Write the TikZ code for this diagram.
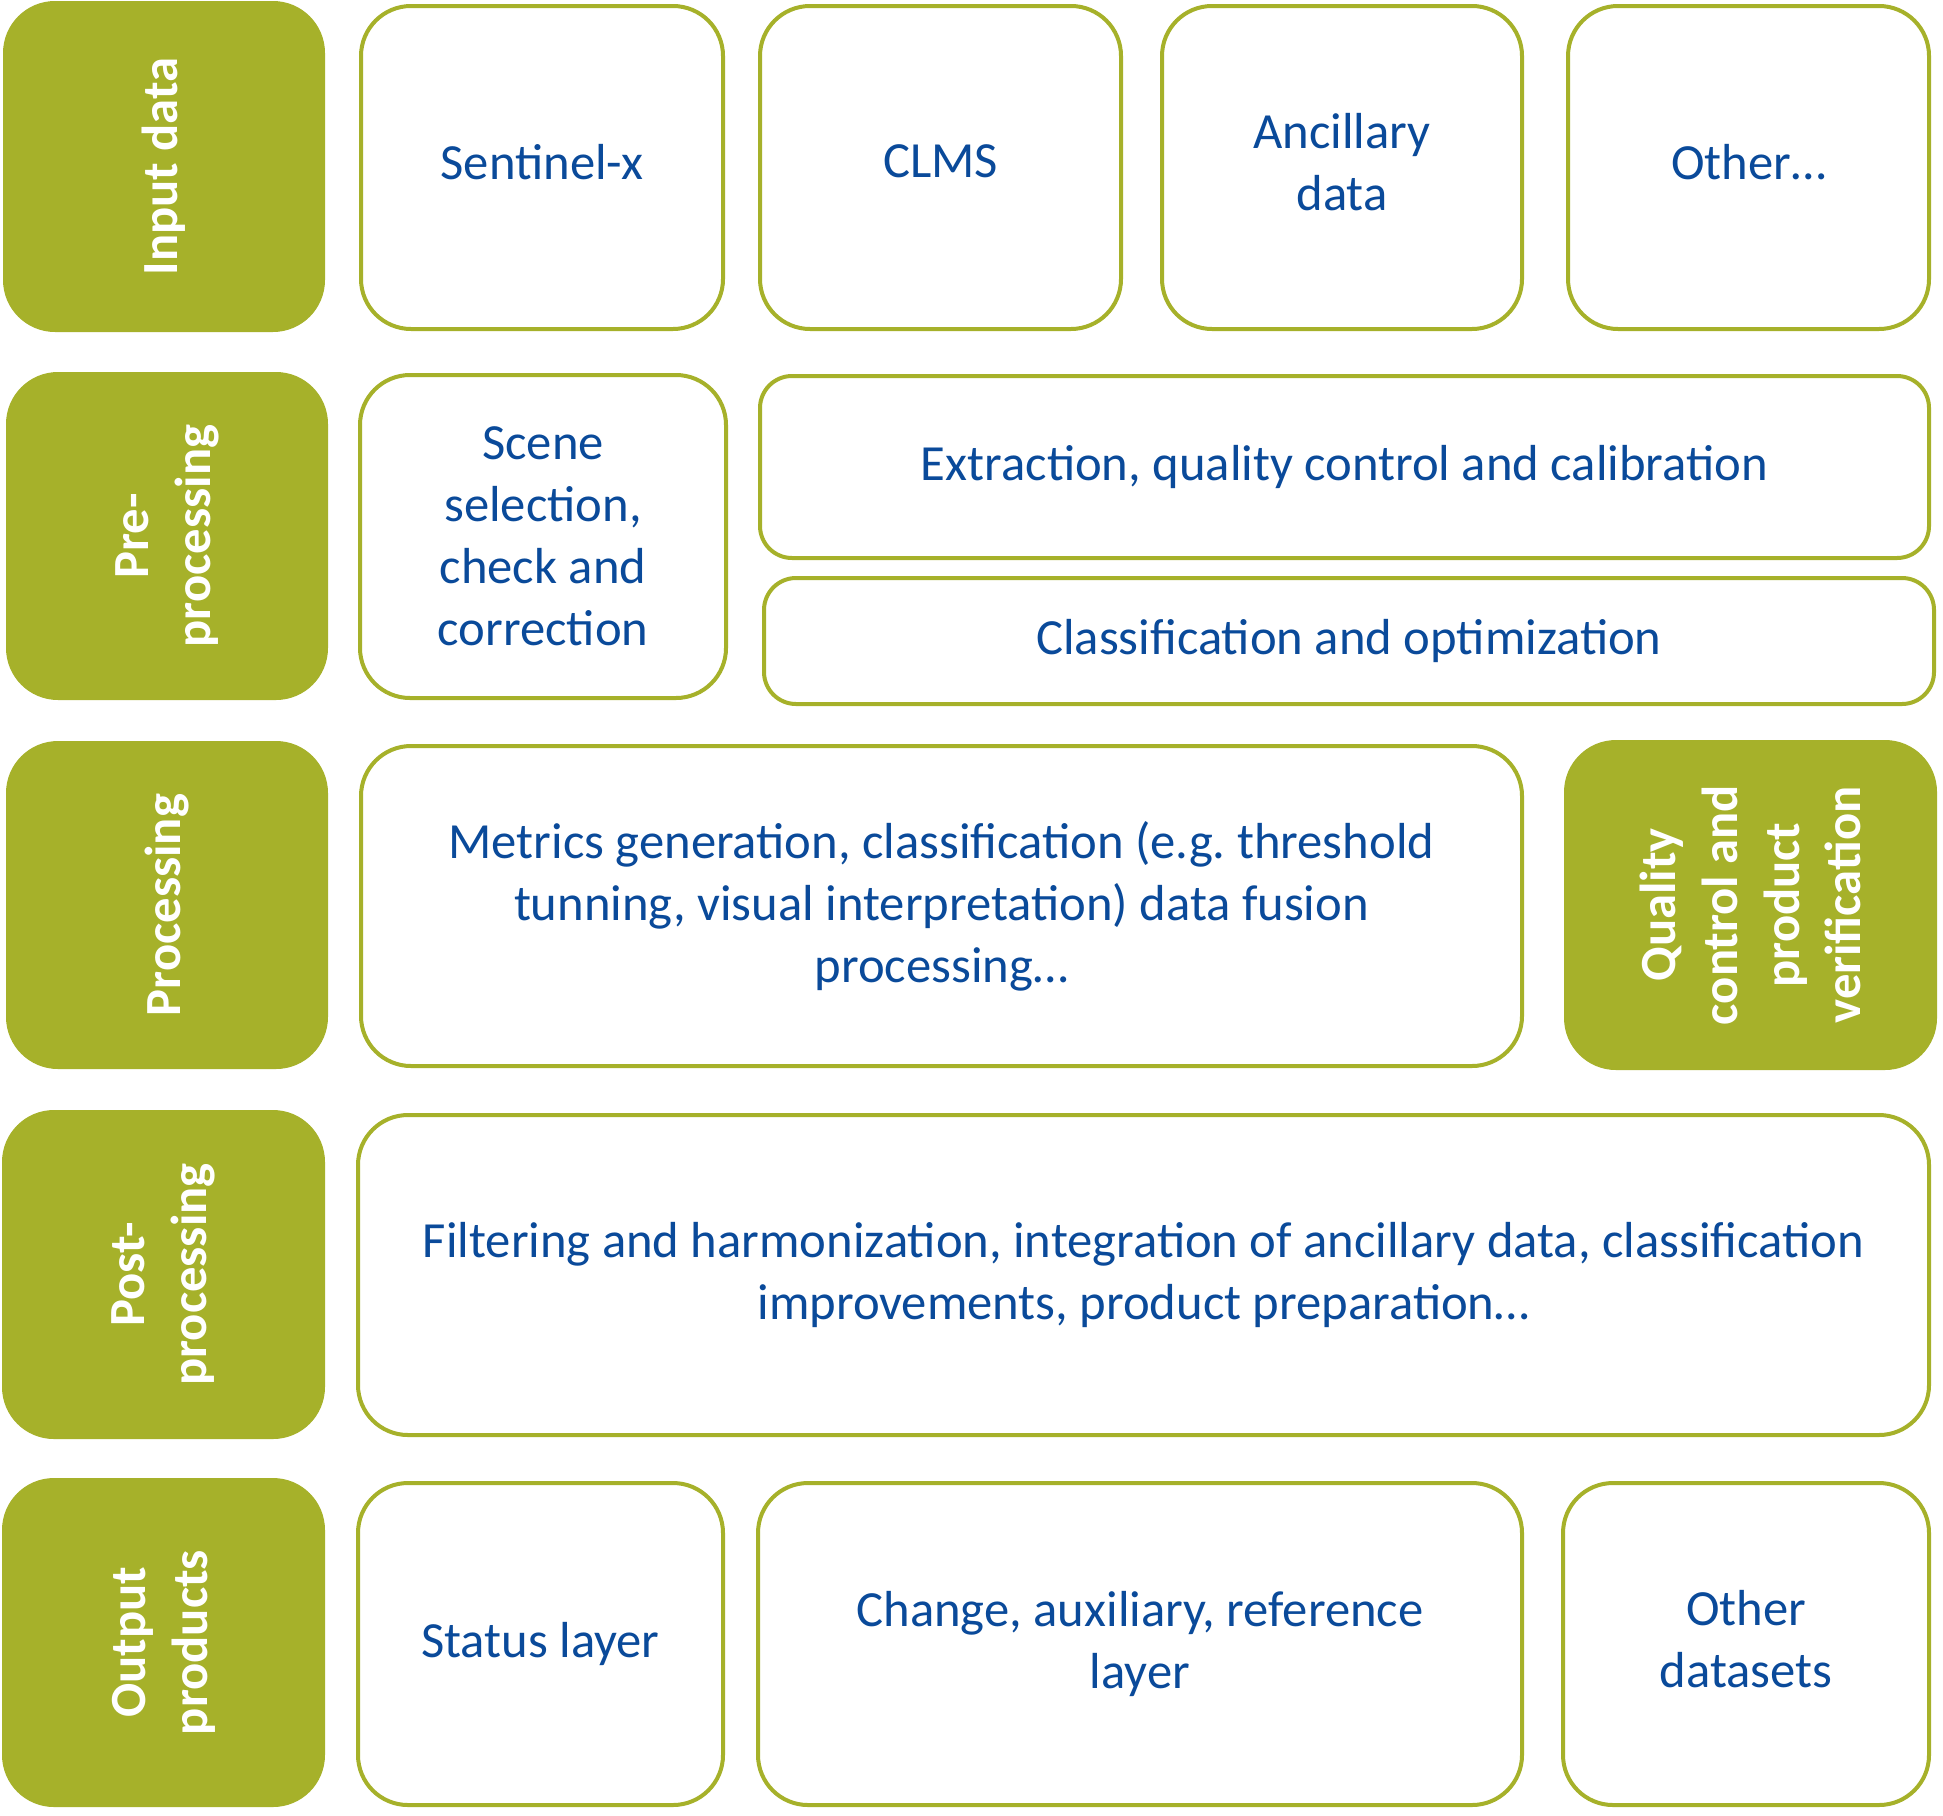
\documentclass[tikz,border=0pt]{standalone}
\usepackage{fontspec}
\setmainfont{Carlito}
\definecolor{olive}{RGB}{166,177,42}
\definecolor{tblue}{RGB}{10,74,154}
\begin{document}
\begin{tikzpicture}[x=0.01cm,y=-0.01cm,
  wd/.style={minimum width=#1*0.01cm},
  ht/.style={minimum height=#1*0.01cm},
  lift/.style={text depth=#1*0.01cm},
  wbox/.style={draw=olive, line width=4*0.01cm, fill=white, rounded corners=50*0.01cm,
    inner sep=0pt, align=center, text=tblue, font=\fontsize{14.4}{17.6}\selectfont},
  thin/.style={rounded corners=32*0.01cm},
  gbox/.style={fill=olive, draw=none, rounded corners=52*0.01cm, inner sep=0pt,
    align=center, text=white, rotate=90, font=\bfseries\fontsize{14.4}{17.6}\selectfont}]
\useasboundingbox (0,0) rectangle (1943,1815);
% row 1
\node[gbox, wd=331, ht=322] (inp) at (164,166.5) {Input data};
\node[wbox, lift=12, wd=362, ht=323] (sen) at (542,167.5) {Sentinel-x};
\node[wbox, lift=12, wd=361, ht=323] (clm) at (940.5,167.5) {CLMS};
\node[wbox, lift=12, wd=360, ht=323] (anc) at (1342,167.5) {Ancillary\\data};
\node[wbox, lift=12, wd=361, ht=323] (oth) at (1748.5,167.5) {Other…};
% row 2
\node[gbox, wd=328, ht=322] (pre) at (167,536) {Pre-\\processing};
\node[wbox, wd=366, ht=323] (sce) at (543,536.5) {Scene\\selection,\\check and\\correction};
\node[wbox, thin, wd=1169, ht=182] (ext) at (1344.5,467) {Extraction, quality control and calibration};
\node[wbox, thin, wd=1170, ht=126] (cla) at (1349,641) {Classification and optimization};
% row 3
\node[gbox, wd=328, ht=322] (pro) at (167,905) {Processing};
\node[wbox, wd=1161, ht=320] (met) at (941.5,906) {Metrics generation, classification (e.g.\ threshold\\tunning, visual interpretation) data fusion\\processing…};
\node[gbox, wd=330, ht=373] (qua) at (1750.5,905) {Quality\\control and\\product\\verification};
% row 4
\node[gbox, wd=329, ht=323] (pos) at (163.5,1274.5) {Post-\\processing};
\node[wbox, wd=1571, ht=320] (fil) at (1143.5,1275) {Filtering and harmonization, integration of ancillary data, classification\\improvements, product preparation…};
% row 5
\node[gbox, wd=329, ht=323] (out) at (163.5,1642.5) {Output\\products};
\node[wbox, wd=365, ht=322] (sta) at (540.5,1644) {Status layer};
\node[wbox, wd=764, ht=322] (chg) at (1140,1644) {Change, auxiliary, reference\\layer};
\node[wbox, lift=10, wd=366, ht=322] (ods) at (1746,1644) {Other\\datasets};
\end{tikzpicture}
\end{document}
